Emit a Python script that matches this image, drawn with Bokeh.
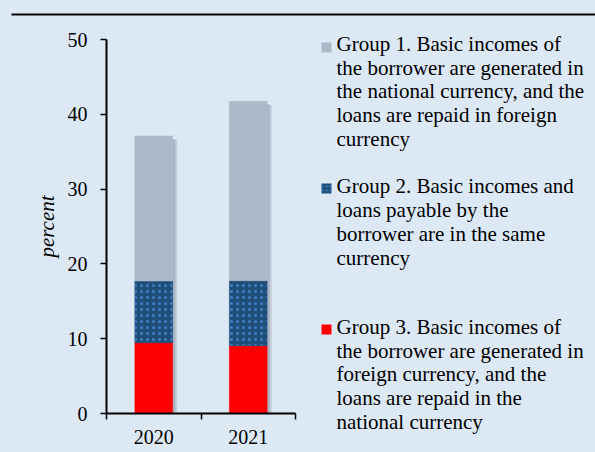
from bokeh.plotting import figure
from bokeh.models import (ColumnDataSource, Range1d, FixedTicker, Label, BoxAnnotation)
from bokeh.transform import dodge
from bokeh.embed import file_html
from bokeh.resources import INLINE

# ---- data ----
years = ["2020", "2021"]
group3 = [9.45, 9.05]    # Group 3 (red)
group2 = [8.25, 8.70]    # Group 2 (dark blue, dotted)
group1 = [19.40, 24.00]  # Group 1 (grey-blue)
y_ticks = [0, 10, 20, 30, 40, 50]
y_max = 50
legend_texts = [
    "Group 1. Basic incomes of\nthe borrower are generated in\nthe national currency, and the\nloans are repaid in foreign\ncurrency",
    "Group 2. Basic incomes and\nloans payable by the\nborrower are in the same\ncurrency",
    "Group 3. Basic incomes of\nthe borrower are generated in\nforeign currency, and the\nloans are repaid in the\nnational currency",
]

BG = "#dde8f5"
C1 = "#adb9ca"
C2 = "#1f4e79"
C2DOT = "#3f7fc4"
C3 = "#ff0000"
FONT = "Liberation Serif"
FS = "20px"
LEG_FS = "21px"

W, H = 595, 452
AL, AR, AT, AB = 106, 295, 39, 413  # plot-area edges in canvas pixels

n = len(years)
kx = (AR - AL) / n          # px per x unit
ky = (AB - AT) / y_max      # px per y unit
x_range = Range1d(-AL / kx, n + (W - AR) / kx)
y_range = Range1d(-(H - AB) / ky, y_max + AT / ky)

xpos = [i + 0.5 for i in range(n)]
totals = [a + b + c for a, b, c in zip(group1, group2, group3)]
src = ColumnDataSource(dict(x=xpos, g3=group3, g2=group2, g1=group1, total=totals))

p = figure(width=W, height=H, output_backend="svg", toolbar_location=None,
           x_range=x_range, y_range=y_range,
           min_border_left=0, min_border_right=0, min_border_top=0, min_border_bottom=0)
p.background_fill_color = BG
p.border_fill_color = BG
p.outline_line_color = None
p.grid.visible = False

# shadows
p.vbar(x=dodge("x", 0.05, range=p.x_range), top=dodge("total", -0.5, range=p.y_range), bottom=0,
       width=0.4, source=src, fill_color="#7f8896", fill_alpha=0.25, line_color=None)
p.vbar(x=dodge("x", 0.03, range=p.x_range), top=dodge("total", -0.4, range=p.y_range), bottom=0,
       width=0.4, source=src, fill_color="#7f8896", fill_alpha=0.35, line_color=None)

p.vbar_stack(["g3", "g2", "g1"], x="x", width=0.4, source=src,
             fill_color=[C3, C2, C1], line_color=[C3, C2, C1], line_width=0.5,
             hatch_pattern=[" ", "dot", " "], hatch_color=C2DOT, hatch_scale=6, hatch_weight=1.5)

# axes (fixed inside the canvas-wide frame)
xa = p.xaxis[0]
xa.fixed_location = 0
xa.bounds = (0, n)
xa.ticker = FixedTicker(ticks=xpos, minor_ticks=list(range(n + 1)))
xa.major_label_overrides = {x: y for x, y in zip(xpos, years)}
xa.major_tick_out = 0
xa.major_tick_in = 0
xa.minor_tick_out = 6
xa.minor_tick_in = 0
xa.minor_tick_line_color = "black"
xa.minor_tick_line_width = 1.5
xa.axis_line_color = "black"
xa.axis_line_width = 2
xa.major_label_text_font = FONT
xa.major_label_text_font_size = FS
xa.major_label_text_color = "black"
xa.major_label_standoff = 10

ya = p.yaxis[0]
ya.fixed_location = 0
ya.bounds = (0, y_max)
ya.ticker = FixedTicker(ticks=y_ticks, minor_ticks=[])
ya.major_tick_out = 6
ya.major_tick_in = 0
ya.major_tick_line_width = 1.5
ya.major_tick_line_color = "black"
ya.axis_line_color = "black"
ya.axis_line_width = 2
ya.major_label_text_font = FONT
ya.major_label_text_font_size = FS
ya.major_label_text_color = "black"
ya.major_label_standoff = 13
ya.axis_label = "percent"
ya.axis_label_text_font = FONT
ya.axis_label_text_font_style = "italic"
ya.axis_label_text_font_size = "21px"
ya.axis_label_text_color = "black"
ya.axis_label_standoff = 6


# screen positions: frame == canvas, origin bottom-left
def sx(px):
    return px


def sy(py):
    return H - py


# top rule line
p.add_layout(BoxAnnotation(left=sx(11), right=sx(W + 5), top=sy(13), bottom=sy(15),
                           left_units="screen", right_units="screen",
                           top_units="screen", bottom_units="screen",
                           fill_color="black", fill_alpha=1, line_color=None))

# legend
leg_center = [91, 221.5, 374]     # vertical centre of each text block (canvas px)
leg_marker = [47, 188, 329]       # centre of each marker (canvas px)
leg_colors = [C1, C2, C3]
leg_hatch = [None, "dot", None]
for t, yc, ym, c, h in zip(legend_texts, leg_center, leg_marker, leg_colors, leg_hatch):
    p.add_layout(Label(x=sx(336), y=sy(yc), x_units="screen", y_units="screen", text=t,
                       text_font=FONT, text_font_size=LEG_FS, text_color="black",
                       text_baseline="middle", text_line_height=0.99))
    box = BoxAnnotation(left=sx(321), right=sx(331), top=sy(ym - 5), bottom=sy(ym + 5),
                        left_units="screen", right_units="screen",
                        top_units="screen", bottom_units="screen",
                        fill_color=c, fill_alpha=1, line_color=None)
    if h:
        box.hatch_pattern = h
        box.hatch_color = C2DOT
        box.hatch_scale = 4
        box.hatch_weight = 1.5
    p.add_layout(box)

html = file_html(p, INLINE)
html = html.replace("<body>", '<body style="background-color:%s;">' % BG)
open("out.html", "w").write(html)
